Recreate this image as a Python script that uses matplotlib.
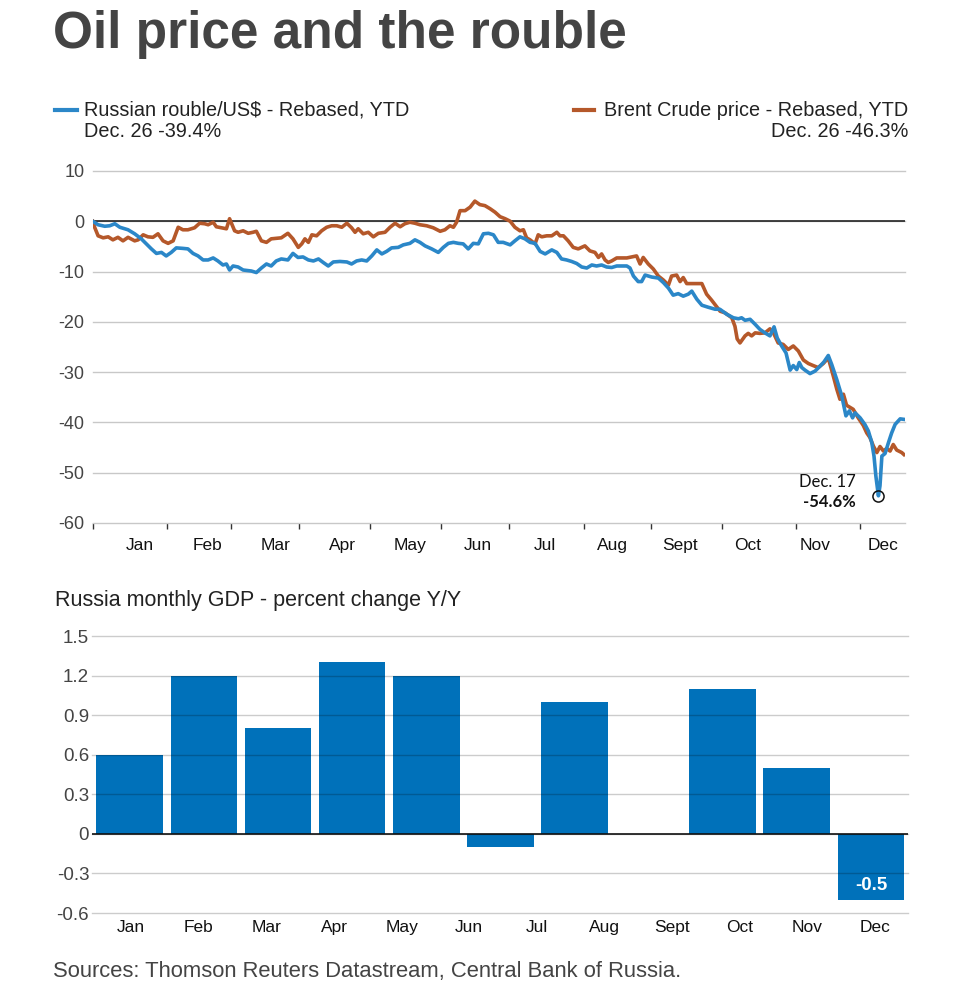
"""Oil price and the rouble"""
import numpy as np
import matplotlib
matplotlib.use("Agg")
import matplotlib.pyplot as plt
from matplotlib.lines import Line2D

# ---- top chart: rebased YTD % change, x in trading days since Jan 1 ----
rouble_x = [0, 1.7, 3.8, 5.4, 7.0, 8.6, 11.2, 13.3, 15.4, 17.0, 18.6, 20.2, 21.8, 23.3, 24.9,
            26.5, 28.6, 30.2, 31.8, 33.4, 35.0, 36.6, 38.2, 39.7, 41.3, 42.4, 43.4, 44.5, 46.1,
            47.7, 50.3, 51.9, 53.5, 55.1, 56.6, 58.2, 59.8, 61.9, 63.5, 65.1, 66.7,
            68.4, 70.0, 71.6, 73.1, 74.7, 76.3, 78.4, 80.6, 82.1, 83.7, 85.3, 86.9, 88.5, 90.1,
            91.7, 93.2, 94.8, 96.9, 98.5, 100.6, 102.2, 103.8, 105.4, 107.5, 109.6, 111.2, 112.8,
            114.4, 116.0, 117.5, 119.1, 120.7, 122.3, 123.9, 125.5, 127.1, 128.6, 130.2,
            132.4, 133.9, 135.5, 137.1, 138.7, 140.3, 141.9, 143.5, 145.6, 147.2, 148.7, 150.3,
            151.9, 153.5, 155.1, 156.7, 158.3, 159.8, 161.4, 163.0, 164.6, 166.2, 167.8, 169.4,
            170.4, 171.5, 173.0, 174.1, 175.2, 177.3, 179.4, 181.0, 182.6, 184.1, 185.7, 187.3,
            188.9, 190.0, 191.6, 193.2, 195.2, 197.4, 198.9,
            201.1, 203.2, 204.8, 205.8, 206.9, 208.5, 210.1, 211.6, 213.2, 214.8, 216.1, 217.1,
            218.5, 219.9, 221.2, 222.2, 223.3, 224.1, 224.9, 225.9, 227.5, 229.1, 230.7, 231.9,
            233.3, 234.4, 236.0, 237.6, 238.9, 240.0, 241.0, 241.8, 243.4, 244.9, 246.0, 247.1,
            247.8, 248.4, 249.2, 249.7, 250.3, 251.3, 252.4, 253.4, 254.5, 256.1, 257.3]
rouble = [0, -0.7, -1.0, -0.9, -0.5, -1.2, -1.7, -2.5, -3.5, -4.5, -5.5, -6.4, -6.2, -6.9, -6.2,
          -5.3, -5.4, -5.5, -6.4, -6.9, -7.7, -7.7, -7.3, -7.9, -8.7, -8.5, -9.7, -8.9, -9.1,
          -9.7, -9.9, -10.2, -9.3, -8.5, -8.9, -7.9, -7.5, -7.7, -6.4, -7.2, -7.1,
          -7.7, -7.9, -7.5, -8.2, -8.9, -8.1, -8.0, -8.1, -8.5, -7.9, -7.7, -7.9, -6.9, -5.7,
          -6.5, -6.0, -5.3, -5.2, -4.7, -4.4, -3.7, -4.2, -4.9, -5.5, -6.2, -5.2, -4.4,
          -4.2, -4.4, -4.5, -5.5, -4.4, -4.5, -2.5, -2.4, -2.7, -4.2, -4.2,
          -4.7, -3.9, -3.1, -3.5, -4.2, -4.4, -6.0, -6.5, -5.7, -6.2, -7.5, -7.7,
          -8.0, -8.4, -9.1, -9.3, -8.7, -8.9, -8.7, -9.1, -9.2, -8.9, -8.9, -8.9,
          -9.3, -10.9, -12.0, -12.0, -10.7, -11.1, -11.3, -12.2, -13.3, -14.7, -14.4, -14.9,
          -14.5, -13.9, -15.5, -16.7, -17.1, -17.5, -17.5,
          -18.5, -19.2, -19.4, -19.2, -19.7, -19.5, -20.5, -21.5, -22.2, -22.8, -21.0, -23.2,
          -24.8, -26.2, -29.6, -28.7, -29.5, -28.1, -29.1, -29.6, -30.3, -29.8, -28.8, -28.0,
          -26.7, -28.5, -31.5, -34.8, -38.7, -37.7, -39.1, -38.1, -39.1, -40.4, -41.7, -44.0,
          -46.7, -50.7, -54.6, -52.6, -46.7, -46.2, -44.0, -42.1, -40.4, -39.3, -39.4]

brent_x = [0, 0.6, 1.7, 3.3, 4.9, 6.4, 8.0, 9.6, 11.2, 13.3, 14.4, 16.0, 17.5, 19.1, 20.7, 22.3,
           23.9, 25.5, 27.1, 28.6, 30.2, 32.3, 33.9, 35.5, 36.6, 38.2, 39.2, 40.8, 42.4, 43.4,
           45.0, 46.1, 47.7, 49.3, 50.8, 51.9, 53.5, 55.1, 56.6, 58.2, 59.8, 61.9, 63.5,
           65.2, 66.3, 67.3, 68.4, 69.5, 71.0, 72.6, 74.2, 75.8, 77.4, 79.0, 80.6, 82.1, 83.2,
           84.2, 85.8, 87.4, 89.0, 90.6, 92.7, 94.3, 95.9, 97.5, 99.0, 100.6, 102.2, 103.8,
           105.9, 108.0, 110.2, 111.7, 113.3, 114.4, 115.4, 116.5, 118.1, 119.7, 121.2, 122.8,
           124.4, 126.0, 127.6, 129.2, 130.8,
           132.4, 133.9, 135.5, 136.6, 137.6, 138.7, 140.3, 141.3, 142.4, 144.0, 145.6, 147.2,
           148.2, 149.3, 150.8, 152.4, 154.0, 156.1, 157.7, 159.3, 160.4, 161.4, 162.5, 163.5,
           164.6, 166.2, 167.8, 169.4, 170.9, 172.5, 173.6, 174.6, 176.2, 177.8, 179.4, 181.0,
           182.6, 183.6, 185.2, 186.3, 187.3, 188.4, 190.0, 191.6, 193.2, 194.7, 196.3,
           199.0, 200.5, 202.7, 203.7, 204.4, 205.3, 206.9, 207.9, 209.0, 210.1, 211.6, 213.2,
           214.8, 215.9, 217.4, 219.0, 220.6, 222.2, 223.8, 225.4, 227.0, 228.5, 230.1, 231.7,
           233.3, 234.9, 236.0, 237.0, 238.1, 239.1, 241.2, 242.8, 244.4, 245.5, 246.5, 247.6,
           248.7, 249.7, 250.8, 251.8, 252.9, 253.9, 255.0, 256.6, 257.3]
brent = [0, -1.2, -2.9, -3.3, -3.1, -3.7, -3.2, -3.9, -3.2, -3.9, -3.7, -2.7, -3.1, -3.2, -2.5, -3.9,
         -4.4, -3.9, -1.2, -1.7, -1.7, -1.3, -0.4, -0.5, -0.7, -0.2, -1.1, -1.3, -1.5, 0.5,
         -1.9, -2.2, -1.9, -2.4, -2.2, -2.0, -3.9, -4.2, -3.5, -3.4, -3.3, -2.4, -3.5,
         -5.2, -4.5, -3.5, -4.2, -2.7, -2.9, -1.9, -1.2, -0.9, -0.9, -1.2, -0.4, -1.3, -2.2,
         -1.5, -2.5, -2.2, -3.1, -2.4, -2.2, -1.2, -0.4, -1.1, -0.5, -0.2, -0.4, -0.7,
         -0.9, -1.3, -2.0, -1.7, -0.9, -1.2, -0.2, 2.1, 2.1, 2.8, 4.0, 3.3,
         3.1, 2.5, 1.8, 0.9, 0.5,
         0.0, -1.2, -1.9, -1.7, -3.3, -3.7, -4.5, -2.7, -3.1, -2.9, -2.9, -2.2,
         -2.9, -2.9, -3.9, -5.2, -5.5, -4.9, -5.9, -6.2, -7.2, -6.5, -7.7, -8.2,
         -7.9, -7.3, -7.3, -7.3, -7.1, -6.9, -8.5, -7.2, -8.5, -9.5, -10.9, -11.7,
         -12.7, -10.9, -10.7, -12.0, -11.2, -12.4, -12.4, -12.4, -12.4, -14.5, -15.7,
         -17.9, -18.2, -19.2, -20.9, -23.4, -24.2, -22.8, -22.3, -22.8, -22.2, -22.3, -22.2,
         -21.4, -22.2, -24.2, -24.5, -25.5, -24.8, -25.8, -27.6, -28.3, -28.7, -29.1, -28.3,
         -27.2, -30.8, -33.4, -35.4, -34.4, -36.6, -37.4, -39.1, -40.6, -42.1, -43.0, -44.7,
         -46.0, -44.8, -45.7, -45.2, -45.7, -44.4, -45.5, -46.0, -46.4]

month_starts = [0, 23.5, 44, 65.5, 88, 110.5, 132.1, 155.7, 177.1, 199.7, 223.2, 243.5]
top_months = ["Jan", "Feb", "Mar", "Apr", "May", "Jun", "Jul", "Aug", "Sept", "Oct", "Nov", "Dec"]
top_yticks = [10, 0, -10, -20, -30, -40, -50, -60]
low_x, low_val = 249.2, -54.6

# ---- bottom chart: monthly GDP % change y/y ----
gdp = [0.6, 1.2, 0.8, 1.3, 1.2, -0.1, 1.0, 0.0, 1.1, 0.5, -0.5]
bar_months = ["Jan", "Feb", "Mar", "Apr", "May", "Jun", "Jul", "Aug", "Sept", "Oct", "Nov", "Dec"]
bar_yticks = [1.5, 1.2, 0.9, 0.6, 0.3, 0, -0.3, -0.6]
bar_ylabels = ["1.5", "1.2", "0.9", "0.6", "0.3", "0", "-0.3", "-0.6"]

BLUE = "#2b87c8"
ORANGE = "#b5582a"
BAR = "#0071ba"
GRID = "#c8c8c8"
TXT = "#444444"
SANS = ["Liberation Sans", "DejaVu Sans"]
plt.rcParams["font.family"] = SANS

fig = plt.figure(figsize=(9.6, 9.83), dpi=100)
fig.patch.set_facecolor("white")

fig.text(0.055, 0.951, "Oil price and the rouble", fontsize=37, fontweight="bold",
         color=TXT, ha="left", va="baseline")

# legend, drawn by hand
fig.add_artist(Line2D([0.057, 0.080], [0.888, 0.888], color=BLUE, lw=3))
fig.text(0.0875, 0.888, "Russian rouble/US$ - Rebased, YTD", fontsize=14.3, color="#222222",
         va="center", ha="left")
fig.text(0.0875, 0.8665, "Dec. 26 -39.4%", fontsize=14.3, color="#222222", va="center", ha="left")
fig.add_artist(Line2D([0.598, 0.619], [0.888, 0.888], color=ORANGE, lw=3))
fig.text(0.946, 0.888, "Brent Crude price - Rebased, YTD", fontsize=14.3, color="#222222",
         va="center", ha="right")
fig.text(0.946, 0.8665, "Dec. 26 -46.3%", fontsize=14.3, color="#222222", va="center", ha="right")

# ---- line chart ----
ax = fig.add_axes([0.0966, 0.468, 0.846, 0.3581])
ax.plot(rouble_x, rouble, color=BLUE, lw=2.6, zorder=4, solid_joinstyle="round")
ax.plot(brent_x, brent, color=ORANGE, lw=2.6, zorder=3, solid_joinstyle="round")
ax.axhline(0, color="#222222", lw=1.2, zorder=2)
ax.set_xlim(0, 257.6)
ax.set_ylim(-60, 10)
for s in ax.spines.values():
    s.set_visible(False)
ax.set_yticks(top_yticks)
ax.set_yticklabels([str(v) for v in top_yticks])
ax.yaxis.grid(True, color=GRID, lw=1)
ax.set_axisbelow(True)
ax.tick_params(axis="y", length=0, pad=6, labelsize=13, labelcolor=TXT)
ax.set_xticks(month_starts)
ax.set_xticklabels([])
ax.set_xticks(np.linspace(15.0, 250.6, 12), minor=True)
ax.set_xticklabels(top_months, minor=True)
ax.tick_params(axis="x", which="major", length=4, width=1, color="#333333", direction="out")
ax.tick_params(axis="x", which="minor", length=0, pad=11, labelsize=12.5, labelcolor="#111111")
for g in ax.get_ygridlines():
    g.set_clip_on(False)

ax.plot([low_x], [low_val], marker="o", ms=8, mfc="none", mec="#111111", mew=1.1, zorder=5)
ax.annotate("Dec. 17", (low_x, low_val), xytext=(-16.5, 10), textcoords="offset points",
            ha="right", va="center", fontsize=12, family=["Lato", "DejaVu Sans"],
            color="#111111")
ax.annotate("-54.6%", (low_x, low_val), xytext=(-16.5, -4.5), textcoords="offset points",
            ha="right", va="center", fontsize=12, fontweight="bold",
            family=["Lato", "DejaVu Sans"], color="#111111")

# ---- bar chart ----
fig.text(0.057, 0.3835, "Russia monthly GDP - percent change Y/Y", fontsize=15.5,
         color="#222222", ha="left", va="baseline")
bx = fig.add_axes([0.0958, 0.0712, 0.85, 0.2818])
bx.bar(np.arange(len(gdp)), gdp, width=0.9, color=BAR, zorder=1)
bx.set_xlim(-0.51, 10.5)
bx.set_ylim(-0.6, 1.5)
for s in bx.spines.values():
    s.set_visible(False)
bx.set_yticks(bar_yticks)
bx.set_yticklabels(bar_ylabels)
bx.yaxis.grid(True, color="black", alpha=0.2, lw=1)
bx.set_axisbelow(False)
bx.axhline(0, color="#111111", lw=1.2, zorder=3)
bx.tick_params(axis="y", length=0, pad=2, labelsize=13.5, labelcolor=TXT)
bx.set_xticks(np.linspace(0.02, 10.05, 12))
bx.set_xticklabels(bar_months)
bx.tick_params(axis="x", length=0, pad=5, labelsize=12.5, labelcolor="#111111")
for g in bx.get_ygridlines():
    g.set_clip_on(False)
bx.text(len(gdp) - 1, gdp[-1] + 0.11, "-0.5", color="white", fontweight="bold",
        fontsize=13.5, ha="center", va="center", zorder=4)

fig.text(0.055, 0.006, "Sources: Thomson Reuters Datastream, Central Bank of Russia.",
         fontsize=15.8, color=TXT, ha="left", va="baseline")

fig.savefig("out.png", dpi=100, facecolor="white")
